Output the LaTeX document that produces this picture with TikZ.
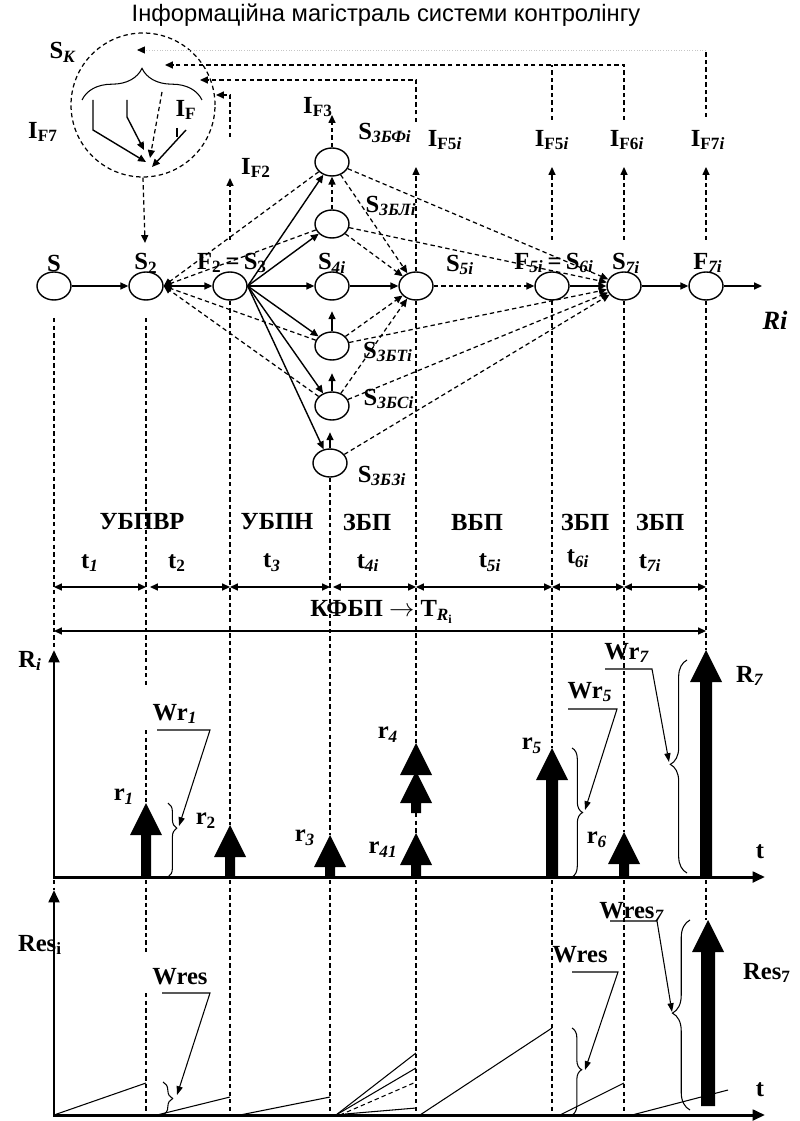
\documentclass[tikz,border=0pt]{standalone}
\usepackage{fontspec}
\setmainfont{Liberation Serif}
\newfontfamily\titlefont{Liberation Sans}
\usetikzlibrary{arrows.meta}
\usetikzlibrary{shapes.geometric}
\usetikzlibrary{decorations.pathreplacing}

\newcommand{\sbi}[1]{\textsubscript{\textit{#1}}}
\newcommand{\sbu}[1]{\textsubscript{#1}}

\begin{document}
\begin{tikzpicture}[x=0.02cm, y=-0.02cm]

\tikzset{
    vuzol/.style = {ellipse, draw, line width=0.8pt,
        minimum width=0.68cm, minimum height=0.56cm, inner sep=0pt},
    napys/.style = {font=\bfseries\fontsize{14}{16}\selectfont, inner sep=1pt},
    strilka/.style = {line width=0.8pt, -{Triangle[length=4.5pt,width=4pt]}},
    shtrykh/.style = {line width=0.7pt, dash pattern=on 2.5pt off 1.8pt},
    kolonka/.style = {line width=0.6pt, dash pattern=on 2.5pt off 1.8pt},
    rozmir/.style = {line width=0.8pt,
        {Triangle[length=4.5pt,width=4pt]}-{Triangle[length=4.5pt,width=4pt]}},
    vis/.style = {line width=1.7pt,
        {Triangle[length=7pt,width=6pt]}-{Triangle[length=7pt,width=6pt]}},
    vkaz/.style = {line width=0.6pt, -{Triangle[length=5pt,width=3.5pt]}},
    tonka/.style = {line width=0.6pt},
    duzhka/.style args = {#1/#2}{decorate, line width=0.6pt,
        decoration={brace, amplitude=#1, aspect=#2}}
}

\useasboundingbox (0,0) rectangle (799,1121);

% title
\node[font=\titlefont\fontsize{13.5}{15}\selectfont] (nazva) at (386,15)
    {Інформаційна магістраль системи контролінгу};

% controlling circle
\node[circle, draw, shtrykh, minimum size=2.88cm, inner sep=0pt] (sk) at (143,105) {};
\node[napys] (lsk) at (63,52) {S\sbi{К}};
\node[napys] (lif7) at (43,132) {I\sbu{F7}};
\node[napys] (lif) at (186,110) {I\sbu{F}};
\draw[duzhka=18pt/0.5] (82,100) -- (202,100);
\draw[strilka] (93,100) -- (93,130) -- (146,162);
\draw[strilka] (127,100) -- (127,117) -- (144,150);
\draw[strilka, shtrykh] (162,92) -- (150,158);
\draw[strilka] (186,130) -- (152,167);
\draw[line width=0.8pt] (177,128) -- (177,137);

% information lines
\draw[densely dotted, gray!45, line width=0.5pt,
    -{Triangle[length=4.5pt,width=4pt,color=black]}] (706,50) -- (137,50);
\draw[shtrykh] (706,117) -- (706,50);
\draw[shtrykh, strilka] (624,120) -- (624,65) -- (165,65);
\draw[shtrykh] (552,120) -- (552,65);
\draw[shtrykh, strilka] (416,122) -- (416,80) -- (200,80);
\draw[shtrykh, strilka] (230,137) -- (230,95) -- (216,95);

% states
\node[vuzol] (s) at (54,286) {};
\node[vuzol] (s2) at (146,286) {};
\node[vuzol] (f2) at (230,286) {};
\node[vuzol] (s4) at (332,286) {};
\node[vuzol] (s5) at (416,286) {};
\node[vuzol] (f5) at (552,286) {};
\node[vuzol] (s7) at (624,286) {};
\node[vuzol] (f7) at (706,286) {};
\node[vuzol] (sbf) at (332,162) {};
\node[vuzol] (sbl) at (332,224) {};
\node[vuzol] (sbt) at (332,346) {};
\node[vuzol] (sbs) at (332,406) {};
\node[vuzol] (sbz) at (330,463) {};
\coordinate (ri) at (762,286);

\node[napys] (ls) at (54,263) {S};
\node[napys] (ls2) at (146,263) {S\sbu{2}};
\node[napys] (lf2) at (232,263) {F\sbu{2}\,=\,S\sbu{3}};
\node[napys] (ls4) at (332,263) {S\sbi{4i}};
\node[napys] (ls5) at (460,265) {S\sbi{5i}};
\node[napys] (lf5) at (554,263) {F\sbi{5i}\,=\,S\sbi{6i}};
\node[napys] (ls7) at (626,263) {S\sbi{7i}};
\node[napys] (lf7) at (708,263) {F\sbi{7i}};
\node[napys, font=\bfseries\itshape\fontsize{15}{17}\selectfont] (lri) at (775,320) {Ri};
\node[napys] (lsbf) at (385,133) {S\sbi{ЗБФі}};
\node[napys] (lsbl) at (391,206) {S\sbi{ЗБЛі}};
\node[napys] (lsbt) at (388,352) {S\sbi{ЗБТі}};
\node[napys] (lsbs) at (389,399) {S\sbi{ЗБСі}};
\node[napys] (lsbz) at (382,476) {S\sbi{ЗБЗі}};

\node[napys] (lif3) at (318,107) {I\sbu{F3}};
\node[napys] (lif2) at (256,168) {I\sbu{F2}};
\node[napys] (lif5a) at (445,140) {I\sbu{F5\textit{i}}};
\node[napys] (lif5b) at (552,140) {I\sbu{F5\textit{i}}};
\node[napys] (lif6) at (627,140) {I\sbu{F6\textit{i}}};
\node[napys] (lif7i) at (708,140) {I\sbu{F7\textit{i}}};

% transitions
\draw[strilka] (s) -- (s2);
\draw[strilka] (s2) -- (f2);
\foreach \v in {sbf, sbl, s4, sbt, sbs, sbz}
    \draw[strilka] (f2.east) -- (\v);
\foreach \v in {sbf, sbl, sbt, sbs}
    \draw[strilka, shtrykh] (\v) -- (s2.east);
\draw[strilka] (s4) -- (s5);
\foreach \v in {sbf, sbl, sbt, sbs}
    \draw[strilka, shtrykh] (\v) -- (s5);
\draw[strilka, shtrykh] (s5) -- (f5);
\draw[strilka] (f5) -- (s7);
\foreach \v in {sbf, sbl, sbt, sbs, sbz}
    \draw[strilka, shtrykh] (\v) -- (s7);
\draw[strilka] (s7) -- (f7);
\draw[strilka] (f7) -- (ri);

% upward signals
\draw[strilka, shtrykh] (sbl) -- (sbf);
\draw[strilka, shtrykh] (sbf.north) -- (332,115);
\draw[strilka] (sbt.north) -- ++(0,-20);
\draw[strilka] (sbs.north) -- ++(0,-18);
\draw[strilka] (sbz.north) -- ++(0,-16);
\draw[strilka, shtrykh] (sk.south) -- (145,243);
\draw[strilka, shtrykh] (230,240) -- (230,178);
\draw[strilka, shtrykh] (s5.north) -- (416,167);
\foreach \x in {552, 624, 706}
    \draw[strilka, shtrykh] (\x,240) -- (\x,167);

% time columns
\draw[kolonka] (54,318) -- (54,650);
\draw[kolonka] (146,318) -- (146,687);
\draw[kolonka] (146,730) -- (146,803);
\draw[kolonka] (f2.south) -- (230,825);
\draw[kolonka] (sbz.south) -- (330,835);
\draw[kolonka] (s5.south) -- (416,743);
\draw[kolonka] (416,813) -- (416,833);
\draw[kolonka] (f5.south) -- (552,748);
\draw[kolonka] (s7.south) -- (624,832);
\draw[kolonka] (f7.south) -- (706,650);
\draw[kolonka] (54,880) -- (54,890);
\draw[kolonka] (146,880) -- (146,952);
\draw[kolonka] (146,993) -- (146,1115);
\foreach \x in {230, 330, 416, 552, 624}
    \draw[kolonka] (\x,880) -- (\x,1115);
\draw[kolonka] (706,880) -- (706,920);

% stages and durations
\foreach \x/\t [count=\i] in {142/УБПВР, 277/УБПН, 367/ЗБП, 477/ВБП, 585/ЗБП, 660/ЗБП}
    \node[napys] (etap\i) at (\x,522) {\t};
\node[napys] (lt1) at (90,563) {t\sbi{1}};
\node[napys] (lt2) at (177,563) {t\sbu{2}};
\node[napys] (lt3) at (272,563) {t\sbi{3}};
\node[napys] (lt4) at (368,563) {t\sbi{4i}};
\node[napys] (lt5) at (490,563) {t\sbi{5i}};
\node[napys] (lt6) at (578,559) {t\sbi{6i}};
\node[napys] (lt7) at (650,563) {t\sbi{7i}};
\foreach \a/\b in {54/146, 150/230, 230/330, 333/416, 416/552, 552/624, 624/706}
    \draw[rozmir] (\a,587) -- (\b,587);
\node[napys] (kfbp) at (382,612) {КФБП $\rightarrow$ T\textsubscript{\textit{R}\textsubscript{i}}};
\draw[rozmir] (54,631) -- (706,631);

% results graph
\draw[vis] (54,650) -- (54,877) -- (765,877);
\node[napys] (lRi) at (30,661) {R\sbi{i}};
\node[napys] (lt) at (760,852) {t};
\foreach \x/\tip/\h in {146/803/5, 230/825/5, 330/835/5, 416/833/5, 552/748/6, 624/832/5, 706/650/6}
    \fill (\x-\h,877) -- (\x-\h,\tip+32) -- (\x-16,\tip+32) -- (\x,\tip)
        -- (\x+16,\tip+32) -- (\x+\h,\tip+32) -- (\x+\h,877) -- cycle;
\fill (411,813) -- (411,803) -- (400,803) -- (416,771) -- (432,803)
    -- (421,803) -- (421,813) -- cycle;
\fill (416,743) -- (432,775) -- (400,775) -- cycle;
\node[napys] (lr1) at (124,797) {r\sbi{1}};
\node[napys] (lr2) at (206,821) {r\sbu{2}};
\node[napys] (lr3) at (305,838) {r\sbi{3}};
\node[napys] (lr4) at (388,735) {r\sbi{4}};
\node[napys] (lr41) at (383,850) {r\sbi{41}};
\node[napys] (lr5) at (532,746) {r\sbi{5}};
\node[napys] (lr6) at (597,840) {r\sbi{6}};
\node[napys] (lR7) at (750,676) {R\sbi{7}};

\draw[duzhka=5pt/0.34] (168,803) -- (168,877);
\node[napys] (wr1) at (175,714) {Wr\sbi{1}};
\draw[vkaz] (157,730) -- (210,730) -- (179,826);
\draw[duzhka=6pt/0.5] (572,748) -- (572,877);
\node[napys] (wr5) at (590,692) {Wr\sbi{5}};
\draw[vkaz] (568,709) -- (617,709) -- (585,810);
\draw[duzhka=9.5pt/0.51] (687,873) -- (687,660);
\node[napys] (wr7) at (627,653) {Wr\sbi{7}};
\draw[vkaz] (605,669) -- (652,669) -- (669,762);

% resources graph
\draw[vis] (54,890) -- (54,1115) -- (765,1115);
\node[napys] (lres) at (40,945) {Res\sbu{i}};
\node[napys] (lt2b) at (760,1090) {t};
\draw[tonka] (54,1115) -- (146,1083);
\draw[tonka] (157,1115) -- (230,1097);
\draw[tonka] (240,1115) -- (330,1097);
\draw[tonka] (336,1115) -- (416,1053);
\draw[tonka] (336,1115) -- (416,1068);
\draw[tonka, dash pattern=on 2.5pt off 1.8pt] (340,1115) -- (416,1082);
\draw[tonka] (345,1114) -- (416,1108);
\draw[tonka] (420,1115) -- (552,1028);
\draw[tonka] (560,1115) -- (624,1083);
\draw[tonka] (632,1115) -- (728,1090);
\fill (701,1106) -- (701,952) -- (692,952) -- (708,920) -- (724,952)
    -- (715,952) -- (715,1106) -- cycle;
\node[napys] (lres7) at (767,973) {Res\sbu{7}};

\draw[duzhka=5.5pt/0.5] (163,1082) -- (163,1115);
\node[napys] (wres1) at (180,977) {Wres};
\draw[vkaz] (162,993) -- (210,993) -- (177,1095);
\draw[duzhka=5.5pt/0.48] (572,1028) -- (572,1115);
\node[napys] (wres2) at (580,955) {Wres};
\draw[vkaz] (572,972) -- (618,972) -- (585,1070);
\draw[duzhka=10pt/0.51] (690,1110) -- (690,920);
\node[napys] (wres7) at (632,912) {Wres\sbi{7}};
\draw[vkaz] (610,921) -- (657,921) -- (672,1012);

\end{tikzpicture}
\end{document}
